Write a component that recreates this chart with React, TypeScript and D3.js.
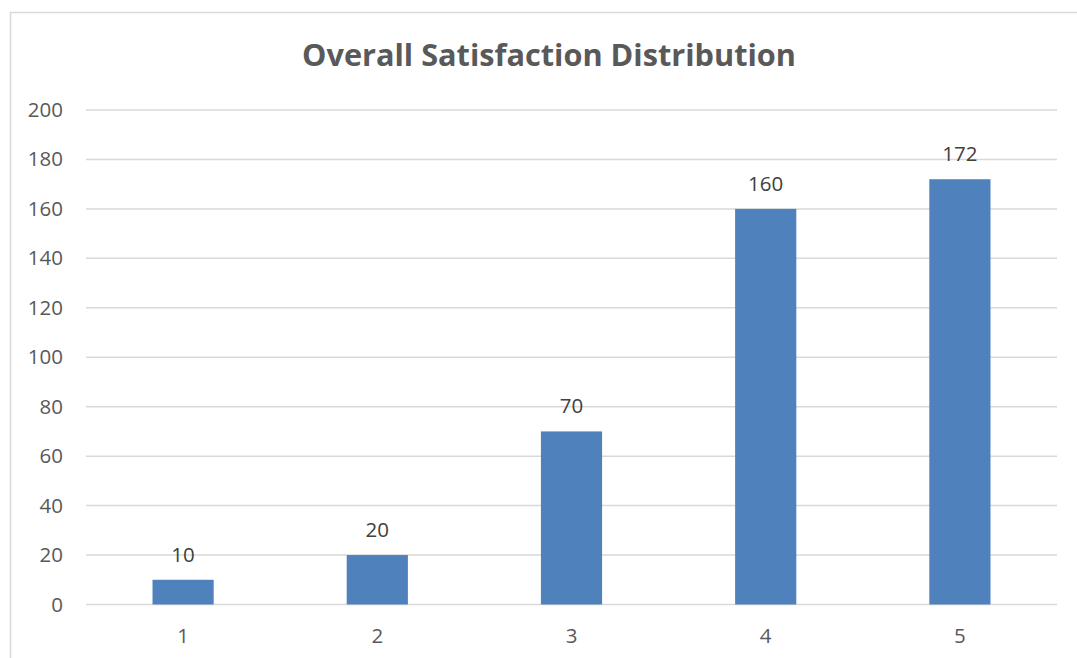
import React from "react";
import * as d3 from "d3";

const categories = ["1", "2", "3", "4", "5"];
const counts = [10, 20, 70, 160, 172];
const yTicks = [0, 20, 40, 60, 80, 100, 120, 140, 160, 180, 200];
const title = "Overall Satisfaction Distribution";

export default function App() {
  const W = 1077, H = 658;
  const left = 86, right = 1057, top = 110, bottom = 604.5;
  const x = d3.scaleBand<string>().domain(categories).range([left, right]).paddingInner(0.685).paddingOuter(0.3425);
  const y = d3.scaleLinear().domain([0, 200]).range([bottom, top]);
  const font = "'Open Sans', 'Liberation Sans', sans-serif";
  return (
    <svg width={W} height={H} style={{ position: "absolute", left: 0, top: 0, background: "#fff" }}>
      <rect x={0} y={0} width={W} height={H} fill="#fff" />
      <line x1={10.5} x2={10.5} y1={12} y2={H} stroke="#d9d9d9" strokeWidth={1.5} />
      <line x1={10} x2={W} y1={12.5} y2={12.5} stroke="#d9d9d9" strokeWidth={1.5} />
      <text x={549} y={66} textAnchor="middle" fontFamily={font} fontWeight="bold" fontSize={30.7} fill="#595959">{title}</text>
      {yTicks.map(t => (
        <g key={t}>
          <line x1={left} x2={right} y1={y(t)} y2={y(t)} stroke="#d9d9d9" strokeWidth={1.5} />
          <text x={63} y={y(t) + 7} textAnchor="end" fontFamily={font} fontSize={20.5} fill="#595959">{t}</text>
        </g>
      ))}
      {categories.map((c, i) => (
        <g key={c}>
          <rect x={x(c)!} y={y(counts[i])} width={x.bandwidth()} height={bottom - y(counts[i])} fill="#4f81bd" />
          <text x={x(c)! + x.bandwidth() / 2} y={y(counts[i]) - 18} textAnchor="middle" fontFamily={font} fontSize={20.5} fill="#404040">{counts[i]}</text>
          <text x={x(c)! + x.bandwidth() / 2} y={643} textAnchor="middle" fontFamily={font} fontSize={20.5} fill="#595959">{c}</text>
        </g>
      ))}
    </svg>
  );
}
